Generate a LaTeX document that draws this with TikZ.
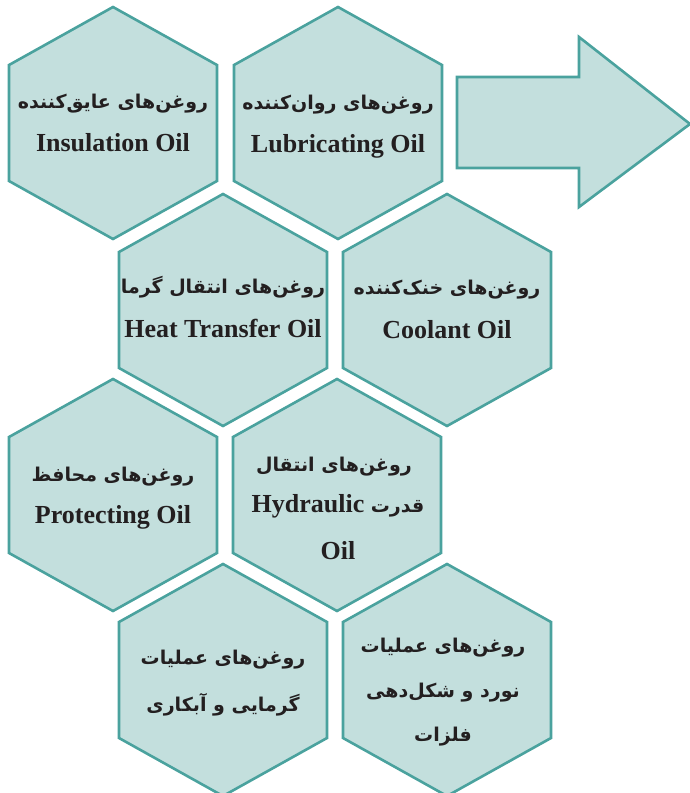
\documentclass[tikz,border=0pt]{standalone}
\usepackage{fontspec}
\setmainfont{Liberation Serif}
\newfontfamily\fa[Script=Arabic]{DejaVu Sans}
\TeXXeTstate=1
\definecolor{hexfill}{HTML}{C3DFDD}
\definecolor{hexline}{HTML}{4AA29E}
\definecolor{txt}{HTML}{231F20}
\newcommand\hexat[2]{\draw[hexagon] (#1,#2) ++(0,-116) -- ++(104,58) -- ++(0,116) -- ++(-104,58) -- ++(-104,-58) -- ++(0,-116) -- cycle;}
\newcommand\faw[1]{{\fontsize{19}{24}\fa\bfseries\beginR #1\endR}}
\begin{document}
\begin{tikzpicture}[x=1pt,y=-1pt,
  hexagon/.style={fill=hexfill,draw=hexline,line width=2.6pt,line join=miter},
  en/.style={font=\fontsize{26}{31}\selectfont\bfseries,text=txt,inner sep=0pt},
  fa/.style={font=\fontsize{19}{24}\fa\bfseries,text=txt,inner sep=0pt}]
\useasboundingbox (0,0) rectangle (690,793);
% hexagons
\hexat{113}{123}
\hexat{338}{123}
\hexat{223}{310}
\hexat{447}{310}
\hexat{113}{495}
\hexat{337}{495}
\hexat{223}{680}
\hexat{447}{680}
% arrow
\draw[hexagon] (457,77) -- (579,77) -- (579,37) -- (690,124) -- (579,207) -- (579,168) -- (457,168) -- cycle;
% texts
\node[fa] (t1a) at (113,104) {\beginR روغن‌های عایق‌کننده\endR};
\node[en] (t1b) at (113,143) {Insulation Oil};
\node[fa] (t2a) at (338,105) {\beginR روغن‌های روان‌کننده\endR};
\node[en] (t2b) at (338,146) {Lubricating Oil};
\node[fa] (t3a) at (223,287) {\beginR روغن‌های انتقال گرما\endR};
\node[en] (t3b) at (223,328) {Heat Transfer Oil};
\node[fa] (t4a) at (447,290) {\beginR روغن‌های خنک‌کننده\endR};
\node[en] (t4b) at (447,330) {Coolant Oil};
\node[fa] (t5a) at (113,477) {\beginR روغن‌های محافظ\endR};
\node[en] (t5b) at (113,517) {Protecting Oil};
\node[fa] (t6a) at (334,467) {\beginR روغن‌های انتقال\endR};
\node[en] (t6b) at (338,506) {Hydraulic \faw{قدرت}};
\node[en] (t6c) at (338,551) {Oil};
\node[fa] (t7a) at (223,660) {\beginR روغن‌های عملیات\endR};
\node[fa] (t7b) at (223,705) {\beginR گرمایی و آبکاری\endR};
\node[fa] (t8a) at (443,648) {\beginR روغن‌های عملیات\endR};
\node[fa] (t8b) at (443,693) {\beginR نورد و شکل‌دهی\endR};
\node[fa] (t8c) at (443,737) {\beginR فلزات\endR};
\end{tikzpicture}
\end{document}
